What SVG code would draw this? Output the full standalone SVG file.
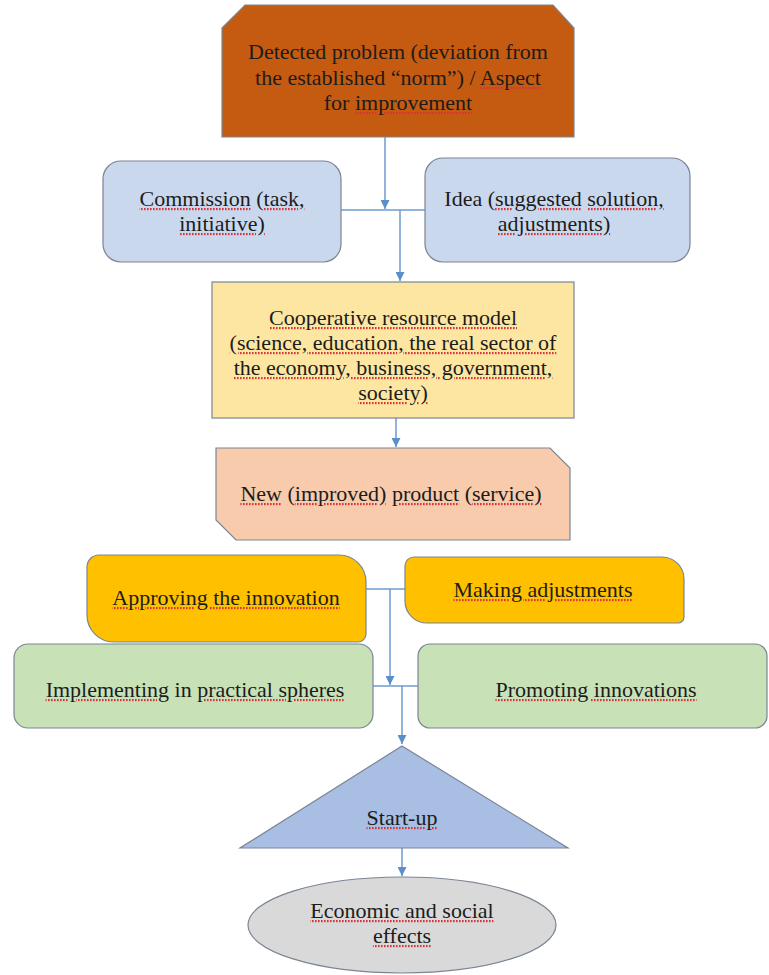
<svg xmlns="http://www.w3.org/2000/svg" width="769" height="975" viewBox="0 0 769 975">
  <defs>
    <marker id="arrow" viewBox="0 0 10 10" refX="10" refY="5" markerWidth="9" markerHeight="9" markerUnits="userSpaceOnUse" orient="auto">
      <path d="M0,0 L10,5 L0,10 z" fill="#5B8FC9"/>
    </marker>
    <!-- dotted red paint for the spell-check underlines -->
    <pattern id="squig" patternUnits="userSpaceOnUse" width="3" height="40">
      <rect x="0" y="0" width="1.6" height="40" fill="#d8333a"/>
    </pattern>
    <style>
      .lbl { font-family: "Liberation Serif", "Times New Roman", serif; font-size: 22px; fill: #1c1c1c; text-anchor: middle; }
      .box { stroke: #7a8594; stroke-width: 1.2; }
      .conn { fill: none; stroke: #6E9BD0; stroke-width: 1.5; }
      .sq { text-decoration: underline; fill: url(#squig); }
      .sq tspan { fill: #1c1c1c; }
    </style>
  </defs>

  <rect width="769" height="975" fill="#ffffff"/>

  <!-- connectors -->
  <g id="connectors">
    <path class="conn" d="M385,137 V209" marker-end="url(#arrow)"/>
    <path class="conn" d="M341,210 H425"/>
    <path class="conn" d="M400,210 V281" marker-end="url(#arrow)"/>
    <path class="conn" d="M396,418 V447" marker-end="url(#arrow)"/>
    <path class="conn" d="M366,589 H405"/>
    <path class="conn" d="M390,589 V685" marker-end="url(#arrow)"/>
    <path class="conn" d="M373,686 H418"/>
    <path class="conn" d="M402,686 V744" marker-end="url(#arrow)"/>
    <path class="conn" d="M402,848 V876" marker-end="url(#arrow)"/>
  </g>

  <!-- problem -->
  <g id="problem">
    <polygon class="box" points="222,28 245,5 553,5 574,28 574,137 222,137" fill="#C55A11"/>
    <text class="lbl" x="398" y="59">Detected problem (deviation from</text>
    <text class="lbl" x="398" y="85">the established “norm”) / <tspan class="sq"><tspan>Aspect</tspan></tspan></text>
    <text class="lbl" x="398" y="110">for <tspan class="sq"><tspan>improvement</tspan></tspan></text>
  </g>

  <!-- commission -->
  <g id="commission">
    <rect class="box" x="103" y="161" width="238" height="101" rx="18" fill="#CAD8EE"/>
    <text class="lbl" x="222" y="206"><tspan class="sq"><tspan>Commission</tspan></tspan> (<tspan class="sq"><tspan>task,</tspan></tspan></text>
    <text class="lbl" x="222" y="231"><tspan class="sq"><tspan>initiative)</tspan></tspan></text>
  </g>

  <!-- idea -->
  <g id="idea">
    <rect class="box" x="425" y="158" width="265" height="104" rx="18" fill="#CAD8EE"/>
    <text class="lbl" x="554" y="206">Idea (<tspan class="sq"><tspan>suggested</tspan></tspan> <tspan class="sq"><tspan>solution,</tspan></tspan></text>
    <text class="lbl" x="554" y="231"><tspan class="sq"><tspan>adjustments)</tspan></tspan></text>
  </g>

  <!-- cooperative model -->
  <g id="cooperative">
    <rect class="box" x="212" y="282" width="362" height="136" fill="#FDE6A2"/>
    <text class="lbl" x="393" y="325"><tspan class="sq"><tspan>Cooperative resource model</tspan></tspan></text>
    <text class="lbl" x="393" y="350"><tspan class="sq"><tspan>(science, education, the real sector of</tspan></tspan></text>
    <text class="lbl" x="393" y="375"><tspan class="sq"><tspan>the economy, business, government,</tspan></tspan></text>
    <text class="lbl" x="393" y="400"><tspan class="sq"><tspan>society)</tspan></tspan></text>
  </g>

  <!-- product -->
  <g id="product">
    <polygon class="box" points="216,448 550,448 570,468 570,540 236,540 216,520" fill="#F8CBAD"/>
    <text class="lbl" x="391" y="501"><tspan class="sq"><tspan>New</tspan></tspan> (<tspan class="sq"><tspan>improved)</tspan></tspan> <tspan class="sq"><tspan>product</tspan></tspan> (<tspan class="sq"><tspan>service)</tspan></tspan></text>
  </g>

  <!-- approving -->
  <g id="approving">
    <path class="box" d="M99,555 H339 A27,27 0 0 1 366,582 V634 A8,8 0 0 1 358,642 H114 A27,27 0 0 1 87,615 V567 A12,12 0 0 1 99,555 Z" fill="#FFC000"/>
    <text class="lbl" x="226" y="605"><tspan class="sq"><tspan>Approving the innovation</tspan></tspan></text>
  </g>

  <!-- adjustments -->
  <g id="adjustments">
    <path class="box" d="M414,557 H662 A22,22 0 0 1 684,579 V617 A6,6 0 0 1 678,623 H427 A22,22 0 0 1 405,601 V566 A9,9 0 0 1 414,557 Z" fill="#FFC000"/>
    <text class="lbl" x="543" y="597"><tspan class="sq"><tspan>Making adjustments</tspan></tspan></text>
  </g>

  <!-- implementing -->
  <g id="implementing">
    <rect class="box" x="14" y="644" width="359" height="84" rx="14" fill="#C9E1B7"/>
    <text class="lbl" x="195" y="697"><tspan class="sq"><tspan>Implementing</tspan></tspan> in <tspan class="sq"><tspan>practical spheres</tspan></tspan></text>
  </g>

  <!-- promoting -->
  <g id="promoting">
    <rect class="box" x="418" y="644" width="349" height="84" rx="12" fill="#C9E1B7"/>
    <text class="lbl" x="596" y="697"><tspan class="sq"><tspan>Promoting innovations</tspan></tspan></text>
  </g>

  <!-- start-up -->
  <g id="startup">
    <polygon class="box" points="402,746 568,848 240,848" fill="#A9BEE3"/>
    <text class="lbl" x="402" y="825"><tspan class="sq"><tspan>Start-up</tspan></tspan></text>
  </g>

  <!-- effects -->
  <g id="effects">
    <ellipse class="box" cx="402" cy="925" rx="154" ry="48" fill="#D9D9D9"/>
    <text class="lbl" x="402" y="918"><tspan class="sq"><tspan>Economic and social</tspan></tspan></text>
    <text class="lbl" x="402" y="943"><tspan class="sq"><tspan>effects</tspan></tspan></text>
  </g>
</svg>
